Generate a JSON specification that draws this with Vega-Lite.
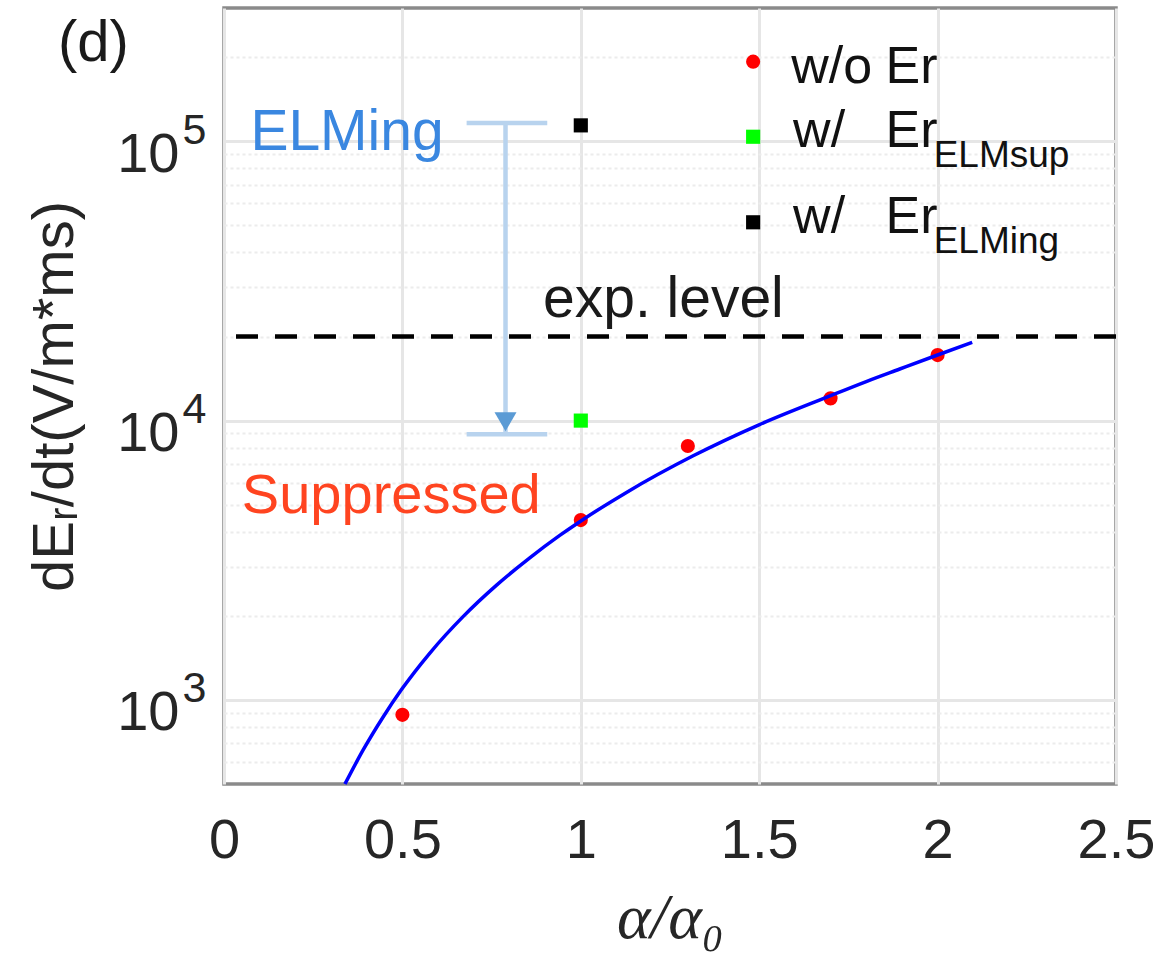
{
  "$schema": "https://vega.github.io/schema/vega-lite/v6.json",
  "width": 892,
  "height": 776,
  "autosize": {"type": "none"},
  "padding": {"left": 224, "top": 8, "right": 57, "bottom": 184},
  "background": "white",
  "title": {"text": "(d)", "anchor": "start", "frame": "group", "orient": "top", "offset": 0, "dx": -166, "dy": 111, "baseline": "alphabetic", "font": "Liberation Sans", "fontSize": 58, "fontWeight": "normal", "color": "#1a1a1a"},
  "datasets": {
    "points": [
      {"series": "w/o Er", "alpha": 0.5, "dEr": 884},
      {"series": "w/o Er", "alpha": 1.0, "dEr": 4404},
      {"series": "w/o Er", "alpha": 1.3, "dEr": 8110},
      {"series": "w/o Er", "alpha": 1.7, "dEr": 12010},
      {"series": "w/o Er", "alpha": 2.0, "dEr": 17160},
      {"series": "w/ Er ELMsup", "alpha": 1.0, "dEr": 10000},
      {"series": "w/ Er ELMing", "alpha": 1.0, "dEr": 114000}
    ],
    "curve": [
      {"alpha": 0.339, "fit": 500},
      {"alpha": 0.39, "fit": 662},
      {"alpha": 0.446, "fit": 869},
      {"alpha": 0.498, "fit": 1091},
      {"alpha": 0.577, "fit": 1472},
      {"alpha": 0.67, "fit": 1987},
      {"alpha": 0.764, "fit": 2576},
      {"alpha": 0.857, "fit": 3226},
      {"alpha": 0.941, "fit": 3880},
      {"alpha": 0.997, "fit": 4345},
      {"alpha": 1.128, "fit": 5533},
      {"alpha": 1.315, "fit": 7482},
      {"alpha": 1.501, "fit": 9680},
      {"alpha": 1.688, "fit": 12110},
      {"alpha": 1.8, "fit": 13800},
      {"alpha": 1.894, "fit": 15300},
      {"alpha": 1.996, "fit": 17100},
      {"alpha": 2.097, "fit": 19050}
    ],
    "explevel": [{"level": 20000}],
    "legsym": [
      {"series": "w/o Er", "lx": 1.483, "ly": 192700},
      {"series": "w/ Er ELMsup", "lx": 1.483, "ly": 103800},
      {"series": "w/ Er ELMing", "lx": 1.483, "ly": 51280}
    ],
    "legtext": [
      {"t": "w/o", "lx": 1.59, "ly": 161300},
      {"t": "w/", "lx": 1.595, "ly": 95640},
      {"t": "w/", "lx": 1.595, "ly": 47080},
      {"t": "Er", "lx": 1.854, "ly": 161300},
      {"t": "Er", "lx": 1.854, "ly": 95640},
      {"t": "Er", "lx": 1.854, "ly": 47080}
    ],
    "legsub": [
      {"t": "ELMsup", "lx": 1.989, "ly": 80700},
      {"t": "ELMing", "lx": 1.989, "ly": 39930}
    ],
    "arrowline": [{"ax": 0.789, "top": 116300, "bottom": 8932}],
    "arrowcaps": [
      {"x1": 0.68, "x2": 0.906, "cy": 116300},
      {"x1": 0.68, "x2": 0.906, "cy": 8932}
    ],
    "arrowhead": [{"ax": 0.789, "ay": 9900}]
  },
  "layer": [
    {
      "data": {"name": "points"},
      "mark": {"type": "point", "filled": true, "opacity": 1},
      "encoding": {
        "x": {
          "field": "alpha", "type": "quantitative",
          "scale": {"domain": [0, 2.5], "nice": false},
          "axis": {
            "values": [0, 0.5, 1, 1.5, 2, 2.5],
            "format": "~g",
            "grid": true, "gridColor": "#e6e6e6", "gridWidth": 3,
            "ticks": false, "domain": false,
            "labelFlush": false, "labelOverlap": false, "labelBound": false,
            "labelFont": "Liberation Sans", "labelFontSize": 56, "labelColor": "#262626",
            "labelBaseline": "alphabetic", "labelPadding": 73,
            "title": "α/α₀",
            "titleFont": "Liberation Serif", "titleFontStyle": "italic", "titleFontSize": 64, "titleFontWeight": "normal", "titleColor": "#262626",
            "titleBaseline": "alphabetic", "titleY": 153
          }
        },
        "y": {
          "field": "dEr", "type": "quantitative",
          "scale": {"type": "log", "domain": [500, 300000], "nice": false},
          "axis": {
            "orient": "left",
            "values": [1000, 10000, 100000],
            "labelExpr": "datum.value > 50000 ? '5' : (datum.value > 5000 ? '4' : '3')",
            "grid": false, "ticks": false, "domain": false,
            "labelFont": "Liberation Sans", "labelFontSize": 43, "labelColor": "#262626",
            "labelPadding": 18, "labelBaseline": "alphabetic", "labelOffset": 2,
            "title": null
          }
        },
        "color": {"field": "series", "type": "nominal", "scale": {"domain": ["w/o Er", "w/ Er ELMsup", "w/ Er ELMing"], "range": ["#ff0000", "#00ff00", "#000000"]}, "legend": null},
        "shape": {"field": "series", "type": "nominal", "scale": {"domain": ["w/o Er", "w/ Er ELMsup", "w/ Er ELMing"], "range": ["circle", "square", "square"]}, "legend": null},
        "size": {"value": 200}
      }
    },
    {
      "data": {"name": "explevel"},
      "mark": {"type": "rule", "strokeDash": [22, 17], "strokeWidth": 4.5, "color": "#000000"},
      "encoding": {
        "y": {
          "field": "level", "type": "quantitative",
          "scale": {"type": "log", "domain": [500, 300000], "nice": false},
          "axis": {
            "orient": "left",
            "values": [1000, 10000, 100000],
            "labelExpr": "'10'",
            "grid": true, "gridColor": "#e6e6e6", "gridWidth": 3,
            "ticks": false, "domain": false,
            "labelFont": "Liberation Sans", "labelFontSize": 56, "labelColor": "#262626",
            "labelPadding": 45, "labelBaseline": "alphabetic", "labelOffset": 30,
            "title": "dEᵣ/dt(V/m*ms)",
            "titleFont": "Liberation Sans", "titleFontSize": 58, "titleFontWeight": "normal", "titleColor": "#262626",
            "titleX": -152, "titleY": 388, "titleAngle": 270, "titleBaseline": "alphabetic", "titleAlign": "center"
          }
        }
      }
    },
    {
      "data": {"name": "curve"},
      "mark": {"type": "line", "color": "#0000ff", "strokeWidth": 3.5, "interpolate": "monotone"},
      "encoding": {
        "x": {"field": "alpha", "type": "quantitative", "scale": {"domain": [0, 2.5], "nice": false}},
        "y": {
          "field": "fit", "type": "quantitative",
          "scale": {"type": "log", "domain": [500, 300000], "nice": false},
          "axis": {
            "orient": "left",
            "values": [600, 700, 800, 900, 2000, 3000, 4000, 5000, 6000, 7000, 8000, 9000, 20000, 30000, 40000, 50000, 60000, 70000, 80000, 90000, 200000],
            "grid": true, "gridColor": "#ececec", "gridWidth": 2, "gridDash": [3, 3],
            "labels": false, "ticks": false, "domain": false, "title": null
          }
        }
      }
    },
    {
      "data": {"name": "legsym"},
      "mark": {"type": "point", "filled": true, "opacity": 1},
      "encoding": {
        "x": {"field": "lx", "type": "quantitative", "scale": {"domain": [0, 2.5], "nice": false}},
        "y": {"field": "ly", "type": "quantitative", "scale": {"type": "log", "domain": [500, 300000], "nice": false}, "axis": null},
        "color": {"field": "series", "type": "nominal", "legend": null},
        "shape": {"field": "series", "type": "nominal", "legend": null},
        "size": {"value": 200}
      }
    },
    {
      "data": {"name": "arrowline"},
      "mark": {"type": "rule", "color": "#b8d3ee", "strokeWidth": 4.5},
      "encoding": {
        "x": {"field": "ax", "type": "quantitative", "scale": {"domain": [0, 2.5], "nice": false}},
        "y": {"field": "top", "type": "quantitative", "scale": {"type": "log", "domain": [500, 300000], "nice": false}, "axis": null},
        "y2": {"field": "bottom"}
      }
    },
    {
      "data": {"name": "arrowcaps"},
      "mark": {"type": "rule", "color": "#b8d3ee", "strokeWidth": 4.5},
      "encoding": {
        "x": {"field": "x1", "type": "quantitative", "scale": {"domain": [0, 2.5], "nice": false}},
        "x2": {"field": "x2"},
        "y": {"field": "cy", "type": "quantitative", "scale": {"type": "log", "domain": [500, 300000], "nice": false}, "axis": null}
      }
    },
    {
      "data": {"name": "arrowhead"},
      "mark": {"type": "point", "shape": "triangle-down", "filled": true, "color": "#5b9bd5", "opacity": 1, "size": 484},
      "encoding": {
        "x": {"field": "ax", "type": "quantitative", "scale": {"domain": [0, 2.5], "nice": false}},
        "y": {"field": "ay", "type": "quantitative", "scale": {"type": "log", "domain": [500, 300000], "nice": false}, "axis": null}
      }
    },
    {
      "data": {"values": [{"label": "ELMing", "tx": 0.074, "ty": 93050}]},
      "mark": {"type": "text", "align": "left", "baseline": "alphabetic", "font": "Liberation Sans", "fontSize": 57, "color": "#3a87e0"},
      "encoding": {
        "x": {"field": "tx", "type": "quantitative", "scale": {"domain": [0, 2.5], "nice": false}},
        "y": {"field": "ty", "type": "quantitative", "scale": {"type": "log", "domain": [500, 300000], "nice": false}, "axis": null},
        "text": {"field": "label"}
      }
    },
    {
      "data": {"values": [{"label": "Suppressed", "tx": 0.05, "ty": 4657}]},
      "mark": {"type": "text", "align": "left", "baseline": "alphabetic", "font": "Liberation Sans", "fontSize": 56, "color": "#ff4420"},
      "encoding": {
        "x": {"field": "tx", "type": "quantitative", "scale": {"domain": [0, 2.5], "nice": false}},
        "y": {"field": "ty", "type": "quantitative", "scale": {"type": "log", "domain": [500, 300000], "nice": false}, "axis": null},
        "text": {"field": "label"}
      }
    },
    {
      "data": {"values": [{"label": "exp. level", "tx": 0.894, "ty": 23550}]},
      "mark": {"type": "text", "align": "left", "baseline": "alphabetic", "font": "Liberation Sans", "fontSize": 57, "color": "#1a1a1a"},
      "encoding": {
        "x": {"field": "tx", "type": "quantitative", "scale": {"domain": [0, 2.5], "nice": false}},
        "y": {"field": "ty", "type": "quantitative", "scale": {"type": "log", "domain": [500, 300000], "nice": false}, "axis": null},
        "text": {"field": "label"}
      }
    },
    {
      "data": {"name": "legtext"},
      "mark": {"type": "text", "align": "left", "baseline": "alphabetic", "font": "Liberation Sans", "fontSize": 52, "color": "#111111"},
      "encoding": {
        "x": {"field": "lx", "type": "quantitative", "scale": {"domain": [0, 2.5], "nice": false}},
        "y": {"field": "ly", "type": "quantitative", "scale": {"type": "log", "domain": [500, 300000], "nice": false}, "axis": null},
        "text": {"field": "t"}
      }
    },
    {
      "data": {"name": "legsub"},
      "mark": {"type": "text", "align": "left", "baseline": "alphabetic", "font": "Liberation Sans", "fontSize": 37, "color": "#111111"},
      "encoding": {
        "x": {"field": "lx", "type": "quantitative", "scale": {"domain": [0, 2.5], "nice": false}},
        "y": {"field": "ly", "type": "quantitative", "scale": {"type": "log", "domain": [500, 300000], "nice": false}, "axis": null},
        "text": {"field": "t"}
      }
    }
  ],
  "resolve": {"axis": {"y": "independent"}},
  "config": {
    "view": {"stroke": "#8a8a8a", "strokeWidth": 3.5},
    "axis": {"domain": false, "ticks": false}
  }
}
